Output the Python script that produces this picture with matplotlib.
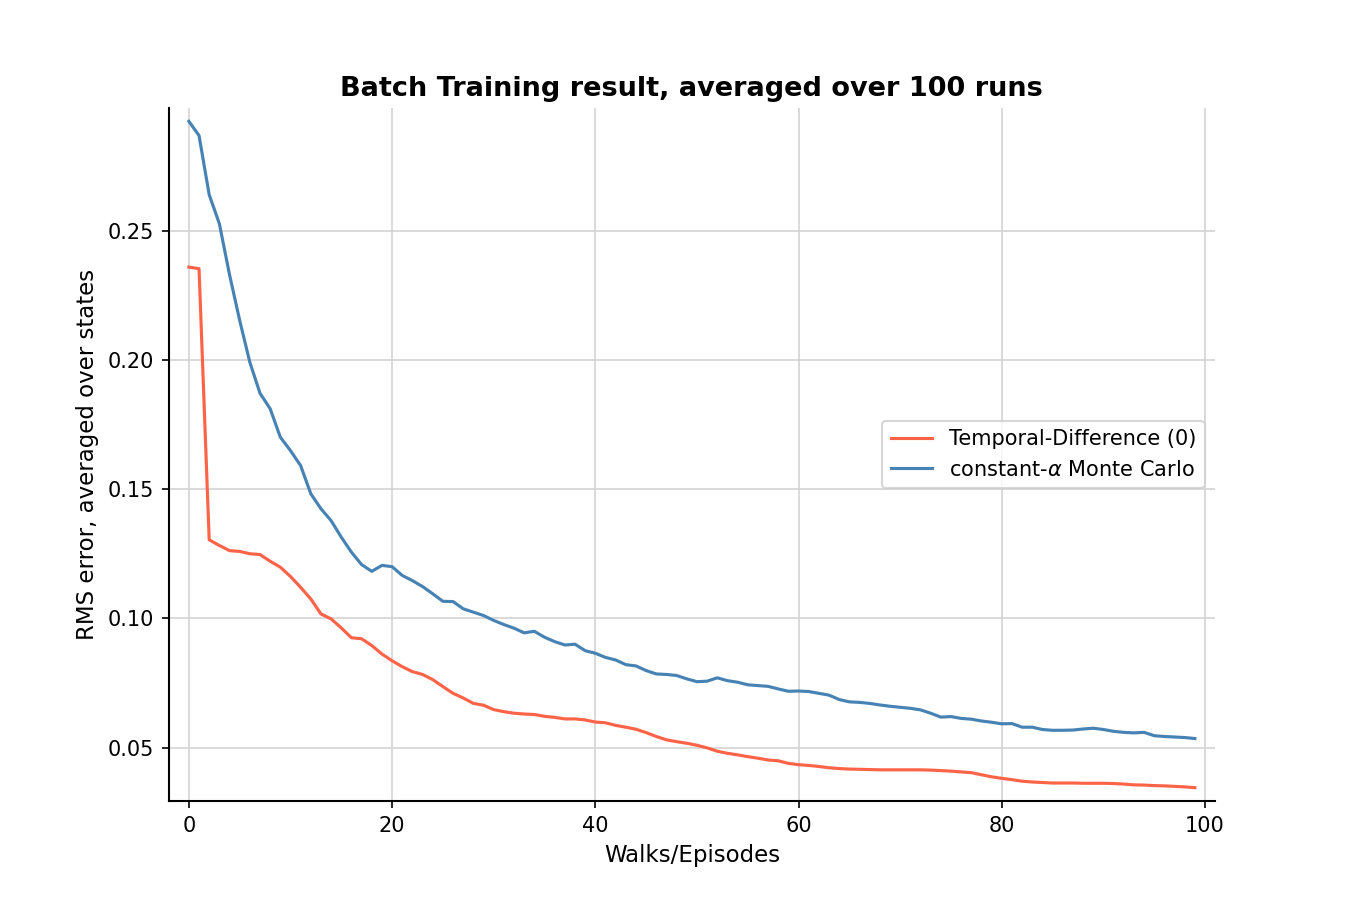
import numpy as np
import matplotlib
matplotlib.use("Agg")
import matplotlib.pyplot as plt

# RMS error per episode
td_errors = [
    0.2359, 0.2353, 0.1304, 0.1282, 0.1262, 0.1259, 0.1250, 0.1247, 0.1221, 0.1198,
    0.1162, 0.1120, 0.1075, 0.1017, 0.0998, 0.0963, 0.0925, 0.0921, 0.0895, 0.0862,
    0.0836, 0.0813, 0.0794, 0.0783, 0.0763, 0.0736, 0.0710, 0.0692, 0.0671, 0.0664,
    0.0647, 0.0639, 0.0633, 0.0630, 0.0628, 0.0621, 0.0617, 0.0611, 0.0611, 0.0607,
    0.0599, 0.0596, 0.0586, 0.0579, 0.0571, 0.0558, 0.0543, 0.0530, 0.0523, 0.0517,
    0.0509, 0.0499, 0.0486, 0.0478, 0.0472, 0.0465, 0.0459, 0.0452, 0.0449, 0.0439,
    0.0434, 0.0431, 0.0427, 0.0422, 0.0419, 0.0417, 0.0416, 0.0415, 0.0414, 0.0414,
    0.0414, 0.0414, 0.0414, 0.0413, 0.0411, 0.0409, 0.0406, 0.0403, 0.0395, 0.0387,
    0.0381, 0.0376, 0.0370, 0.0367, 0.0365, 0.0363, 0.0363, 0.0363, 0.0362, 0.0362,
    0.0362, 0.0361, 0.0359, 0.0356, 0.0355, 0.0353, 0.0352, 0.0350, 0.0348, 0.0345,
]
mc_errors = [
    0.2923, 0.2868, 0.2639, 0.2527, 0.2330, 0.2153, 0.1991, 0.1871, 0.1811, 0.1701,
    0.1649, 0.1591, 0.1482, 0.1424, 0.1378, 0.1314, 0.1256, 0.1208, 0.1182, 0.1205,
    0.1200, 0.1166, 0.1146, 0.1123, 0.1095, 0.1066, 0.1065, 0.1037, 0.1024, 0.1011,
    0.0992, 0.0976, 0.0962, 0.0944, 0.0950, 0.0927, 0.0910, 0.0897, 0.0900, 0.0875,
    0.0865, 0.0849, 0.0839, 0.0821, 0.0816, 0.0798, 0.0785, 0.0783, 0.0779, 0.0766,
    0.0755, 0.0757, 0.0770, 0.0759, 0.0753, 0.0743, 0.0740, 0.0737, 0.0727, 0.0718,
    0.0719, 0.0717, 0.0710, 0.0703, 0.0686, 0.0677, 0.0675, 0.0671, 0.0665, 0.0660,
    0.0656, 0.0652, 0.0646, 0.0633, 0.0618, 0.0620, 0.0613, 0.0610, 0.0603, 0.0598,
    0.0592, 0.0593, 0.0579, 0.0579, 0.0570, 0.0567, 0.0567, 0.0568, 0.0572, 0.0575,
    0.0570, 0.0563, 0.0559, 0.0557, 0.0559, 0.0546, 0.0543, 0.0541, 0.0539, 0.0535,
]
episodes = np.arange(len(td_errors))

fig, ax = plt.subplots(figsize=(9, 6), dpi=150)
fig.subplots_adjust(left=0.125, right=0.9, bottom=0.11, top=0.88)

ax.plot(episodes, td_errors, color='tomato', lw=1.5, label='Temporal-Difference (0)')
ax.plot(episodes, mc_errors, color='steelblue', lw=1.5, label=r'constant-$\alpha$ Monte Carlo')

ax.margins(0.02)
ax.grid(True, color='lightgray', lw=0.8)
ax.set_axisbelow(True)
for side in ['top', 'right']:
    ax.spines[side].set_visible(False)
for side in ['left', 'bottom']:
    ax.spines[side].set_linewidth(1.0)

ax.set_xlabel('Walks/Episodes', fontsize=11)
ax.set_ylabel('RMS error, averaged over states', fontsize=11)
ax.set_title('Batch Training result, averaged over 100 runs', fontweight='bold', fontsize=13)
ax.legend(loc='center right')

fig.savefig('out.png', dpi=150)
